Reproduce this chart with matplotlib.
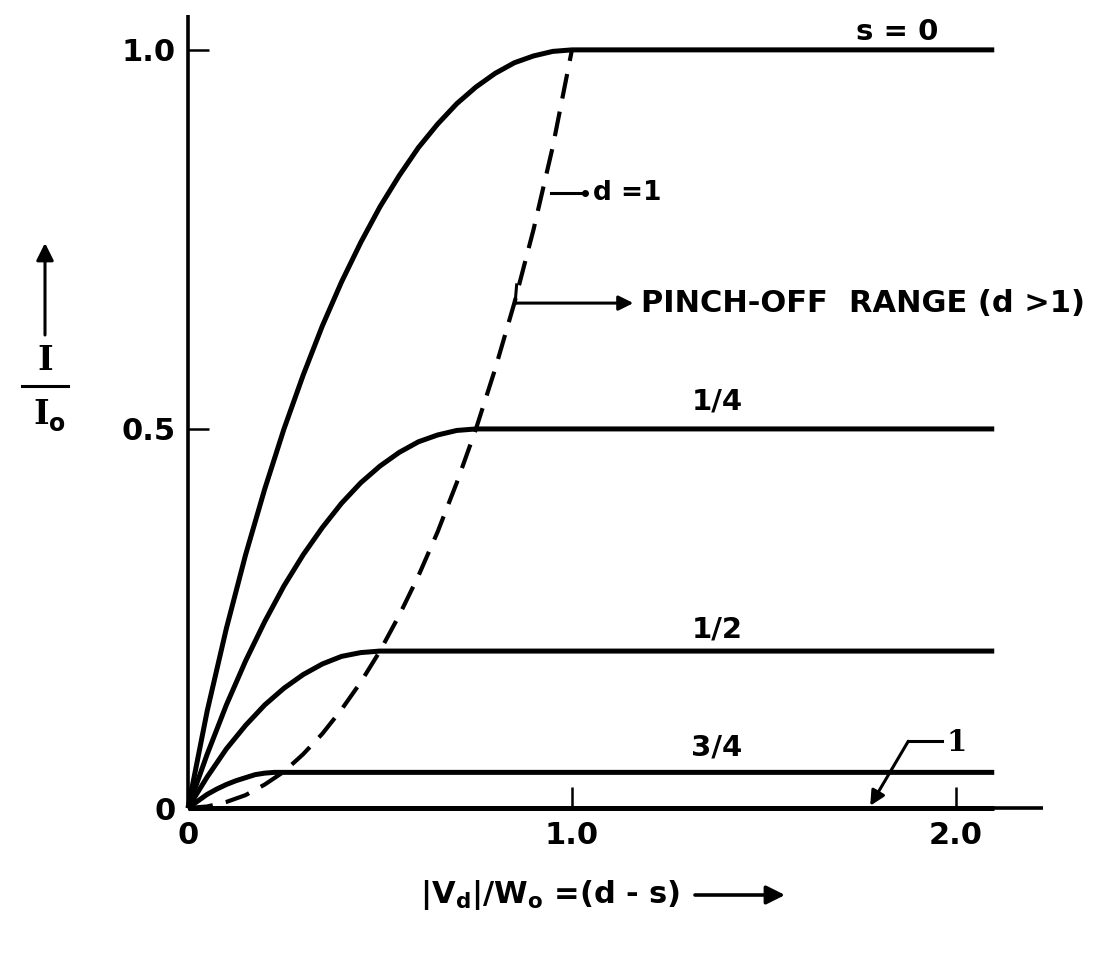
import matplotlib
matplotlib.use("Agg")
import matplotlib.pyplot as plt
from matplotlib.lines import Line2D

plt.rcParams["font.family"] = ["DejaVu Sans"]
plt.rcParams["font.weight"] = "bold"
plt.rcParams["mathtext.fontset"] = "custom"
plt.rcParams["mathtext.rm"] = "DejaVu Sans:bold"
plt.rcParams["mathtext.it"] = "DejaVu Sans:bold"
plt.rcParams["mathtext.bf"] = "DejaVu Sans:bold"
plt.rcParams["mathtext.default"] = "rm"

# Normalized drain voltage (d - s) and normalized current I/I0, one curve per source bias s
x_s0 = [0, 0.05, 0.1, 0.15, 0.2, 0.25, 0.3, 0.35, 0.4, 0.45, 0.5, 0.55, 0.6, 0.65,
        0.7, 0.75, 0.8, 0.85, 0.9, 0.95, 1.0, 2.1]
i_s0 = [0, 0.128, 0.237, 0.334, 0.421, 0.500, 0.571, 0.636, 0.694, 0.746, 0.793,
        0.834, 0.871, 0.902, 0.929, 0.951, 0.969, 0.983, 0.992, 0.998, 1.0, 1.0]

x_s14 = [0, 0.05, 0.1, 0.15, 0.2, 0.25, 0.3, 0.35, 0.4, 0.45, 0.5, 0.55, 0.6, 0.65,
         0.7, 0.75, 2.1]
i_s14 = [0, 0.071, 0.136, 0.194, 0.246, 0.293, 0.334, 0.370, 0.402, 0.429, 0.451,
         0.469, 0.483, 0.492, 0.498, 0.500, 0.500]

x_s12 = [0, 0.05, 0.1, 0.15, 0.2, 0.25, 0.3, 0.35, 0.4, 0.45, 0.5, 2.1]
i_s12 = [0, 0.041, 0.078, 0.109, 0.136, 0.158, 0.176, 0.190, 0.200, 0.205, 0.207, 0.207]

x_s34 = [0, 0.025, 0.05, 0.075, 0.1, 0.125, 0.15, 0.175, 0.2, 0.225, 0.25, 2.1]
i_s34 = [0, 0.009, 0.018, 0.025, 0.031, 0.036, 0.040, 0.044, 0.046, 0.047, 0.047, 0.047]

x_s1 = [0, 2.1]
i_s1 = [0, 0]

# Pinch-off locus, d = 1
x_d1 = [0, 0.05, 0.1, 0.15, 0.2, 0.25, 0.3, 0.35, 0.4, 0.45, 0.5, 0.55, 0.6, 0.65,
        0.7, 0.75, 0.8, 0.85, 0.9, 0.95, 1.0]
i_d1 = [0, 0.002, 0.008, 0.017, 0.031, 0.048, 0.071, 0.098, 0.130, 0.166, 0.207,
        0.254, 0.306, 0.364, 0.429, 0.500, 0.579, 0.666, 0.763, 0.872, 1.0]

curve_labels = ["s = 0", "1/4", "1/2", "3/4"]
x_ticks = [0, 1.0, 2.0]
x_ticklabels = ["0", "1.0", "2.0"]
y_ticks = [0, 0.5, 1.0]
y_ticklabels = ["0", "0.5", "1.0"]

W, H = 1101, 960
fig = plt.figure(figsize=(W / 100, H / 100), dpi=100)


def fx(px):
    return px / W


def fy(py):
    return 1 - py / H


ax = fig.add_axes([fx(188), fy(808), fx(1043) - fx(188), fy(15) - fy(808)])
ax.set_xlim(0, 2.227)
ax.set_ylim(0, 1.046)

for s in ["top", "right"]:
    ax.spines[s].set_visible(False)
for s in ["left", "bottom"]:
    ax.spines[s].set_linewidth(2.6)
    ax.spines[s].set_capstyle("butt")

ax.set_xticks(x_ticks)
ax.set_xticklabels(x_ticklabels)
ax.set_yticks(y_ticks)
ax.set_yticklabels(y_ticklabels)
ax.tick_params(direction="in", length=15, width=1.8, labelsize=22, pad=9, color="black")

lw = 3.6
for xs, ys in [(x_s0, i_s0), (x_s14, i_s14), (x_s12, i_s12), (x_s34, i_s34), (x_s1, i_s1)]:
    ax.plot(xs, ys, color="black", lw=lw, solid_capstyle="butt",
            solid_joinstyle="round", clip_on=False)

ax.plot(x_d1, i_d1, color="black", lw=3.0, dashes=(6, 3.2), clip_on=False)

# curve labels sitting above each saturation plateau
ax.text(1.846, 1.024, curve_labels[0], ha="center", va="center", fontsize=21)
ax.text(1.378, 0.536, curve_labels[1], ha="center", va="center", fontsize=21)
ax.text(1.378, 0.236, curve_labels[2], ha="center", va="center", fontsize=21)
ax.text(1.378, 0.080, curve_labels[3], ha="center", va="center", fontsize=21)

# "1" label with leader to the axis (s = 1 gives zero current)
ax.text(1.975, 0.086, "1", ha="left", va="center", fontsize=21,
        family="DejaVu Serif")
ax.plot([1.965, 1.875], [0.088, 0.088], color="black", lw=2.2, clip_on=False)
ax.annotate("", xy=(1.777, 0.003), xytext=(1.876, 0.088),
            arrowprops=dict(arrowstyle="-|>", color="black", lw=2.2,
                            mutation_scale=22, shrinkA=0, shrinkB=0))

# d = 1 locus label
ax.plot([0.945, 1.035], [0.811, 0.811], color="black", lw=2.2)
ax.plot([1.035], [0.811], "o", color="black", ms=4)
ax.text(1.055, 0.811, "d =1", ha="left", va="center", fontsize=19)

# pinch-off range pointer
ax.plot([0.852, 0.856], [0.666, 0.690], color="black", lw=2.2)
ax.annotate("", xy=(1.16, 0.666), xytext=(0.852, 0.666),
            arrowprops=dict(arrowstyle="-|>", color="black", lw=2.2,
                            mutation_scale=22, shrinkA=0, shrinkB=0))
ax.text(1.18, 0.666, "PINCH-OFF  RANGE (d >1)", ha="left", va="center", fontsize=22)

# y-axis label: arrow with I / I0 fraction
fig.add_artist(Line2D([fx(22), fx(68)], [fy(386), fy(386)], color="black", lw=2.2))
fig.text(fx(45), fy(360), "I", ha="center", va="center", fontsize=24,
         family="DejaVu Serif", weight="bold")
fig.text(fx(41), fy(414), "I", ha="center", va="center", fontsize=24,
         family="DejaVu Serif", weight="bold")
fig.text(fx(57), fy(424), "o", ha="center", va="center", fontsize=17, weight="bold")
ax.annotate("", xy=(fx(45), fy(243)), xytext=(fx(45), fy(335)),
            xycoords="figure fraction", textcoords="figure fraction",
            arrowprops=dict(arrowstyle="-|>", color="black", lw=2.2,
                            mutation_scale=26, shrinkA=0, shrinkB=0))

# x-axis label with arrow
fig.text(fx(420), fy(895), r"$|V_d|/W_o$ =(d - s)", ha="left", va="center", fontsize=22)
ax.annotate("", xy=(fx(785), fy(895)), xytext=(fx(695), fy(895)),
            xycoords="figure fraction", textcoords="figure fraction",
            arrowprops=dict(arrowstyle="-|>", color="black", lw=2.6,
                            mutation_scale=28, shrinkA=0, shrinkB=0))

fig.savefig("out.png", dpi=100, facecolor="white")
